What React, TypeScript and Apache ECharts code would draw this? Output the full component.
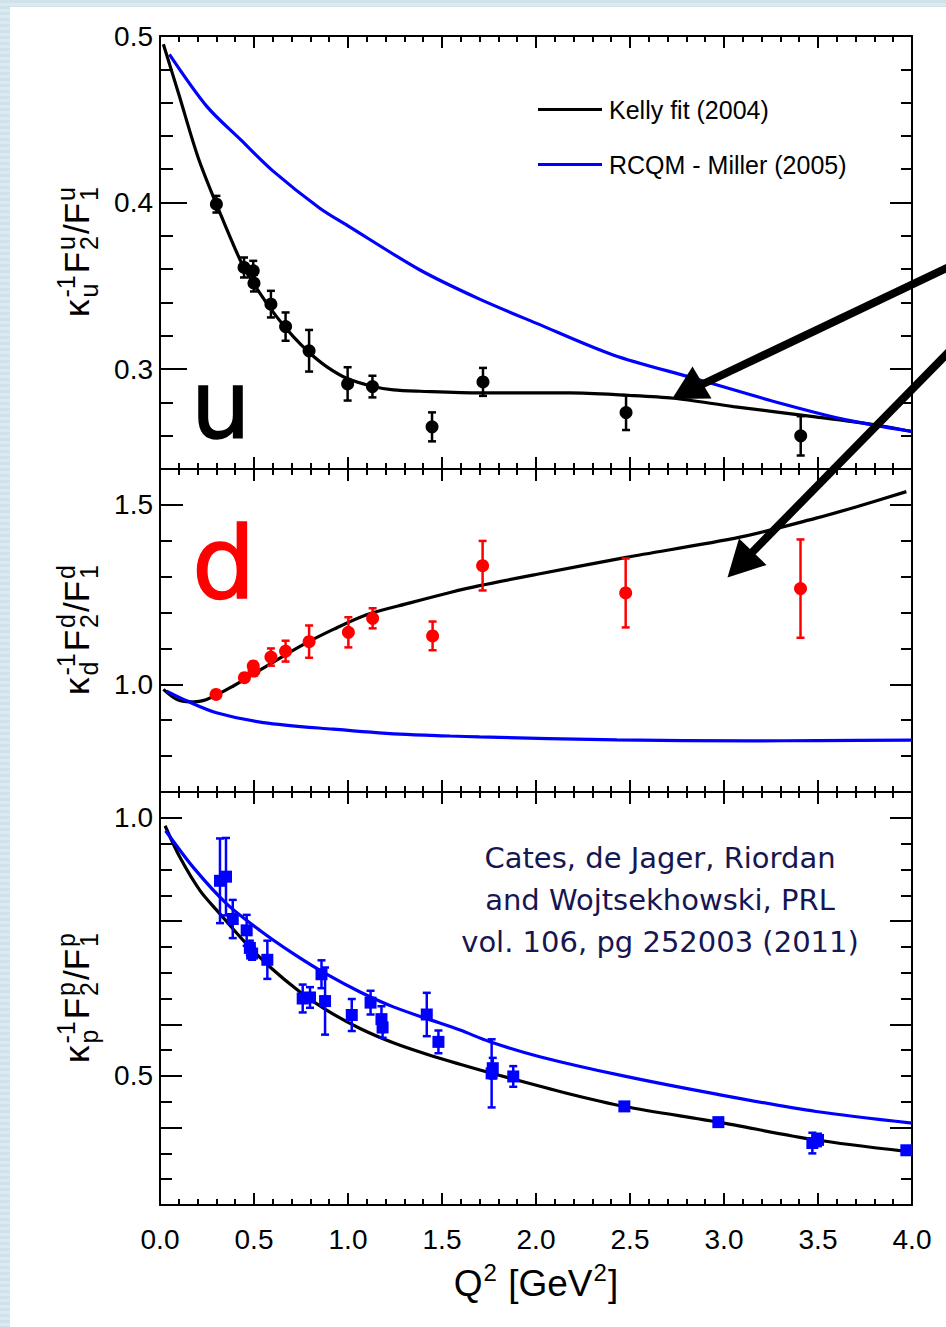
import React, { useEffect, useRef } from "react";
import * as echarts from "echarts";

// ---------------- data ----------------
// u quark panel
const uQ2 = [0.30, 0.447, 0.496, 0.50, 0.59, 0.668, 0.793, 0.998, 1.13, 1.447, 1.718, 2.479, 3.408];
const uVal = [0.399, 0.361, 0.359, 0.3516, 0.339, 0.3255, 0.311, 0.2911, 0.2895, 0.2653, 0.2923, 0.2739, 0.2599];
const uErr = [0.005, 0.006, 0.006, 0.005, 0.008, 0.0085, 0.0125, 0.010, 0.0065, 0.0087, 0.0084, 0.0105, 0.0118];
const uKelly = [[0.018, 0.495], [0.1, 0.465], [0.2, 0.428], [0.3, 0.399], [0.443, 0.3615], [0.532, 0.3455], [0.62, 0.3315], [0.709, 0.3195], [0.798, 0.3095], [0.886, 0.3015], [0.993, 0.2945], [1.135, 0.2895], [1.241, 0.2875], [1.383, 0.2867], [1.702, 0.2857], [2.18, 0.2857], [2.48, 0.2843], [2.73, 0.2825], [3.05, 0.2775], [3.475, 0.2715], [3.777, 0.267], [4.0, 0.2625]];
const uMiller = [[0.05, 0.489], [0.25, 0.4576], [0.43, 0.4376], [0.6, 0.419], [0.85, 0.3966], [1.0, 0.386], [1.383, 0.3595], [1.7, 0.342], [2.0, 0.3276], [2.41, 0.3085], [2.84, 0.2945], [3.3, 0.2795], [3.65, 0.2695], [4.0, 0.2625]];

// d quark panel
const dQ2 = [0.298, 0.449, 0.496, 0.50, 0.59, 0.668, 0.793, 1.002, 1.131, 1.45, 1.716, 2.477, 3.407];
const dVal = [0.972, 1.0185, 1.051, 1.037, 1.076, 1.0925, 1.119, 1.145, 1.184, 1.135, 1.3306, 1.2546, 1.2667];
const dErr = [0.008, 0.01, 0.012, 0.012, 0.024, 0.029, 0.045, 0.042, 0.028, 0.04, 0.069, 0.096, 0.137];
const dKelly = [[0.018, 0.986], [0.089, 0.958], [0.16, 0.951], [0.248, 0.958], [0.39, 0.9954], [0.567, 1.051], [0.745, 1.106], [0.922, 1.153], [1.099, 1.194], [1.33, 1.227], [1.543, 1.256], [1.70, 1.275], [2.0, 1.306], [2.48, 1.3537], [3.085, 1.41], [3.49, 1.463], [3.706, 1.495], [3.97, 1.537]];
const dMiller = [[0.035, 0.981], [0.142, 0.954], [0.30, 0.921], [0.55, 0.8935], [0.922, 0.875], [1.277, 0.861], [1.543, 0.856], [1.70, 0.8536], [2.43, 0.845], [3.14, 0.8426], [3.5, 0.8432], [4.0, 0.8444]];

// proton panel
const pQ2 = [0.319, 0.351, 0.387, 0.461, 0.478, 0.49, 0.571, 0.759, 0.798, 0.859, 0.878, 1.02, 1.12, 1.178, 1.184, 1.419, 1.481, 1.764, 1.77, 1.879, 2.47, 2.97, 3.47, 3.50, 3.97];
const pVal = [0.878, 0.886, 0.804, 0.782, 0.748, 0.737, 0.725, 0.650, 0.652, 0.697, 0.645, 0.618, 0.642, 0.610, 0.594, 0.619, 0.566, 0.505, 0.515, 0.499, 0.441, 0.4105, 0.370, 0.376, 0.356];
const pErr = [0.082, 0.075, 0.037, 0.03, 0.014, 0.012, 0.037, 0.027, 0.02, 0.027, 0.065, 0.031, 0.023, 0.025, 0.02, 0.042, 0.022, 0.066, 0.02, 0.02, 0.006, 0.006, 0.02, 0.012, 0.006];
const pKelly = [[0.027, 0.9846], [0.106, 0.9234], [0.213, 0.859], [0.319, 0.814], [0.443, 0.7626], [0.585, 0.711], [0.745, 0.6627], [0.886, 0.6274], [1.064, 0.592], [1.241, 0.5643], [1.419, 0.542], [1.596, 0.5226], [1.764, 0.5052], [2.163, 0.4665], [2.47, 0.4408], [2.97, 0.4105], [3.484, 0.3764], [3.97, 0.3538]];
const pMiller = [[0.03, 0.975], [0.177, 0.904], [0.355, 0.8334], [0.532, 0.7818], [0.709, 0.7369], [0.886, 0.697], [1.064, 0.6627], [1.241, 0.6338], [1.419, 0.611], [1.596, 0.5888], [1.755, 0.5662], [2.02, 0.5373], [2.465, 0.50], [2.96, 0.4647], [3.49, 0.4311], [4.0, 0.4086]];

// axes / ticks
const xRange = [0, 4];
const uRange = [0.24, 0.5];
const dRange = [0.7, 1.6];
const pRange = [0.25, 1.05];
const uMinorTicks = [0.24, 0.26, 0.28, 0.30, 0.32, 0.34, 0.36, 0.38, 0.40, 0.42, 0.44, 0.46, 0.48, 0.50];
const uMajorTicks = [0.3, 0.4, 0.5];
const uTickLabels = [0.3, 0.4, 0.5];
const dMinorTicks = [0.7, 0.8, 0.9, 1.0, 1.1, 1.2, 1.3, 1.4, 1.5, 1.6];
const dMajorTicks = [1.0, 1.5];
const dTickLabels = [1.0, 1.5];
const pMinorTicks = [0.25, 0.30, 0.35, 0.40, 0.45, 0.50, 0.55, 0.60, 0.65, 0.70, 0.75, 0.80, 0.85, 0.90, 0.95, 1.00, 1.05];
const pMajorTicksLeft = [0.4, 0.5, 0.6, 0.8, 1.0];
const pMajorTicksRight = [0.4, 0.6, 0.8, 1.0];
const pTickLabels = [0.5, 1.0];

const KELLY = "Kelly fit (2004)";
const MILLER = "RCQM - Miller (2005)";
const citation = ["Cates, de Jager, Riordan", "and Wojtsekhowski, PRL", "vol. 106, pg 252003 (2011)"];

// ---------------- helpers ----------------
const FONT = '"Liberation Sans", Arial, Helvetica, sans-serif';
const BLUE = "#0000ff";
const RED = "#ff0000";

let measureCtx: CanvasRenderingContext2D | null = null;
function tw(text: string, size: number, family = FONT): number {
  if (!measureCtx) measureCtx = document.createElement("canvas").getContext("2d");
  measureCtx!.font = `${size}px ${family}`;
  return measureCtx!.measureText(text).width;
}

type Seg = { t?: string; sub?: string; sup?: string };
function scriptText(segs: Seg[], main: number, small: number, x: number, y: number, rotation: number, gap = 1, color = "#000") {
  const items: any[] = [];
  let cur = 0;
  for (const s of segs) {
    if (s.t) {
      items.push({ text: s.t, size: main, dx: cur, base: 0 });
      cur += tw(s.t, main) + gap;
    } else {
      let w = 0;
      if (s.sup) {
        items.push({ text: s.sup, size: small, dx: cur, base: -0.42 * main });
        w = Math.max(w, tw(s.sup, small));
      }
      if (s.sub) {
        items.push({ text: s.sub, size: small, dx: cur, base: 0.26 * main });
        w = Math.max(w, tw(s.sub, small));
      }
      cur += w + gap;
    }
  }
  const total = cur - gap;
  return {
    type: "group",
    x,
    y,
    rotation,
    silent: true,
    z: 50,
    children: items.map((it) => ({
      type: "text",
      x: it.dx - total / 2,
      y: it.base - 0.35 * it.size,
      style: {
        text: it.text,
        fontSize: it.size,
        fontFamily: FONT,
        fill: color,
        align: "left",
        textAlign: "left",
        verticalAlign: "middle",
        textVerticalAlign: "middle",
      },
    })),
  };
}

function yAxesFor(g: number, range: number[], minor: number[], majorL: number[], majorR: number[], labels: number[], lens: number[]) {
  const line = { color: "#000", width: 2 };
  const base = {
    type: "value",
    gridIndex: g,
    min: range[0],
    max: range[1],
    splitLine: { show: false },
    axisLine: { show: false, onZero: false },
    axisLabel: { show: false },
  };
  return [
    { ...base, position: "left", axisLine: { show: true, onZero: false, lineStyle: line }, axisTick: { show: true, inside: true, length: lens[1], customValues: minor, lineStyle: line } },
    {
      ...base,
      position: "left",
      axisTick: { show: true, inside: true, length: lens[0], customValues: majorL, lineStyle: line },
      axisLabel: { show: true, customValues: labels, formatter: (v: number) => v.toFixed(1), fontSize: 28, fontFamily: FONT, color: "#000", margin: 7 },
    },
    { ...base, position: "right", axisLine: { show: true, onZero: false, lineStyle: line }, axisTick: { show: true, inside: true, length: lens[3], customValues: minor, lineStyle: line } },
    { ...base, position: "right", axisTick: { show: true, inside: true, length: lens[2], customValues: majorR, lineStyle: line } },
  ];
}

function xAxesFor(g: number, showLabels: boolean) {
  const line = { color: "#000", width: 2 };
  const common = {
    type: "value",
    gridIndex: g,
    min: xRange[0],
    max: xRange[1],
    interval: 0.5,
    splitLine: { show: false },
    minorSplitLine: { show: false },
    axisLine: { show: true, onZero: false, lineStyle: line },
    axisTick: { show: true, inside: true, length: 12, lineStyle: line },
    minorTick: { show: true, splitNumber: 5, length: 6, lineStyle: line },
  };
  return [
    {
      ...common,
      position: "bottom",
      axisLabel: { show: showLabels, formatter: (v: number) => v.toFixed(1), fontSize: 28, fontFamily: FONT, color: "#000", margin: 20 },
    },
    { ...common, position: "top", axisLabel: { show: false } },
  ];
}

function curve(name: string, g: number, data: number[][], color: string) {
  return {
    type: "line",
    name,
    xAxisIndex: 2 * g,
    yAxisIndex: 4 * g,
    data,
    smooth: 0.3,
    showSymbol: false,
    symbol: "none",
    lineStyle: { color, width: 3.2 },
    itemStyle: { color },
    z: 3,
    silent: true,
  };
}

function errorBars(g: number, q: number[], v: number[], e: number[], color: string) {
  return {
    type: "custom",
    xAxisIndex: 2 * g,
    yAxisIndex: 4 * g,
    silent: true,
    z: 4,
    data: q.map((x, i) => [x, v[i], e[i]]),
    renderItem: (_p: any, api: any) => {
      const x = api.value(0);
      const y = api.value(1);
      const err = api.value(2);
      const hi = api.coord([x, y + err]);
      const lo = api.coord([x, y - err]);
      const w = 4;
      const st = { stroke: color, lineWidth: 2.5 };
      return {
        type: "group",
        children: [
          { type: "line", shape: { x1: hi[0], y1: hi[1], x2: lo[0], y2: lo[1] }, style: st },
          { type: "line", shape: { x1: hi[0] - w, y1: hi[1], x2: hi[0] + w, y2: hi[1] }, style: st },
          { type: "line", shape: { x1: lo[0] - w, y1: lo[1], x2: lo[0] + w, y2: lo[1] }, style: st },
        ],
      };
    },
  };
}

function markers(g: number, q: number[], v: number[], color: string, symbol: string, size: number) {
  return {
    type: "scatter",
    xAxisIndex: 2 * g,
    yAxisIndex: 4 * g,
    symbol,
    symbolSize: size,
    itemStyle: { color, opacity: 1 },
    data: q.map((x, i) => [x, v[i]]),
    z: 5,
    silent: true,
  };
}

function buildOption() {
  const grids = [
    { left: 160, top: 36, width: 752, height: 433 },
    { left: 160, top: 469, width: 752, height: 323 },
    { left: 160, top: 792, width: 752, height: 413 },
  ];
  const xAxis = [...xAxesFor(0, false), ...xAxesFor(1, false), ...xAxesFor(2, true)];
  const yAxis = [
    ...yAxesFor(0, uRange, uMinorTicks, uMajorTicks, uMajorTicks, uTickLabels, [27, 13, 22, 11]),
    ...yAxesFor(1, dRange, dMinorTicks, dMajorTicks, dMajorTicks, dTickLabels, [23, 12, 22, 11]),
    ...yAxesFor(2, pRange, pMinorTicks, pMajorTicksLeft, pMajorTicksRight, pTickLabels, [22, 12, 22, 11]),
  ];
  const series = [
    curve(KELLY, 0, uKelly, "#000"),
    curve(MILLER, 0, uMiller, BLUE),
    errorBars(0, uQ2, uVal, uErr, "#000"),
    markers(0, uQ2, uVal, "#000", "circle", 13),
    curve(KELLY, 1, dKelly, "#000"),
    curve(MILLER, 1, dMiller, BLUE),
    errorBars(1, dQ2, dVal, dErr, RED),
    markers(1, dQ2, dVal, RED, "circle", 13),
    curve(KELLY, 2, pKelly, "#000"),
    curve(MILLER, 2, pMiller, BLUE),
    errorBars(2, pQ2, pVal, pErr, BLUE),
    markers(2, pQ2, pVal, BLUE, "rect", 12),
  ];

  const R = Math.PI / 2;
  const graphic: any[] = [
    // y-axis titles
    scriptText([{ t: "κ" }, { sup: "-1", sub: "u" }, { t: "F" }, { sup: "u", sub: "2" }, { t: "/F" }, { sup: "u", sub: "1" }], 35, 25, 89, 252, R, 2),
    scriptText([{ t: "κ" }, { sup: "-1", sub: "d" }, { t: "F" }, { sup: "d", sub: "2" }, { t: "/F" }, { sup: "d", sub: "1" }], 35, 25, 89, 630, R, 2),
    scriptText([{ t: "κ" }, { sup: "-1", sub: "p" }, { t: "F" }, { sup: "p", sub: "2" }, { t: "/F" }, { sup: "p", sub: "1" }], 35, 25, 89, 998, R, 2),
    // x-axis title
    scriptText([{ t: "Q" }, { sup: "2" }, { t: " [GeV" }, { sup: "2" }, { t: "]" }], 37, 24, 536, 1296, 0),
    // panel letters
    {
      type: "text",
      x: 191,
      y: 438 - 0.346 * 94,
      silent: true,
      style: { text: "u", fontSize: 94, fontFamily: '"DejaVu Sans", sans-serif', fill: "#000", stroke: "#000", lineWidth: 1.5, align: "left", textAlign: "left", verticalAlign: "middle", textVerticalAlign: "middle" },
    },
    {
      type: "text",
      x: 192,
      y: 598 - 0.346 * 100,
      silent: true,
      style: { text: "d", fontSize: 100, fontFamily: '"DejaVu Sans", sans-serif', fill: RED, stroke: RED, lineWidth: 1.5, align: "left", textAlign: "left", verticalAlign: "middle", textVerticalAlign: "middle" },
    },
    // citation
    ...citation.map((line, i) => ({
      type: "text",
      x: 660,
      y: 858 + i * 42,
      silent: true,
      style: { text: line, fontSize: 29, fontFamily: '"DejaVu Sans", sans-serif', fill: "#161650", align: "center", textAlign: "center", verticalAlign: "middle", textVerticalAlign: "middle" },
    })),
    // arrows
    { type: "line", silent: true, z: 60, shape: { x1: 950, y1: 266.5, x2: 702, y2: 384.5 }, style: { stroke: "#000", lineWidth: 8 } },
    { type: "polygon", silent: true, z: 60, shape: { points: [[672, 399], [692.5, 366.5], [711.5, 398.5]] }, style: { fill: "#000" } },
    { type: "line", silent: true, z: 60, shape: { x1: 950, y1: 350.6, x2: 750, y2: 554.5 }, style: { stroke: "#000", lineWidth: 8 } },
    { type: "polygon", silent: true, z: 60, shape: { points: [[727.5, 577.5], [739, 538.5], [766.5, 565]] }, style: { fill: "#000" } },
  ];

  return {
    animation: false,
    backgroundColor: "transparent",
    textStyle: { fontFamily: FONT },
    grid: grids,
    xAxis,
    yAxis,
    legend: {
      orient: "vertical",
      left: 533,
      top: 92,
      itemWidth: 64,
      itemHeight: 3,
      itemGap: 30,
      icon: "rect",
      selectedMode: false,
      data: [KELLY, MILLER],
      textStyle: { fontSize: 25, fontFamily: FONT, color: "#000", lineHeight: 25, padding: [0, 0, 0, 2] },
    },
    series,
    graphic,
  };
}

export default function App() {
  const ref = useRef<HTMLDivElement>(null);
  useEffect(() => {
    const chart = echarts.init(ref.current!, null, { renderer: "svg" });
    chart.setOption(buildOption() as any);
    return () => chart.dispose();
  }, []);
  return (
    <div
      style={{
        position: "fixed",
        left: 0,
        top: 0,
        width: 946,
        height: 1327,
        overflow: "hidden",
        background: "repeating-linear-gradient(180deg, #cfe1eb 0px, #cfe1eb 3px, #dde9f0 3px, #dde9f0 6px)",
      }}
    >
      <div style={{ position: "absolute", left: 10, top: 7, width: 936, height: 1320, background: "#fff" }} />
      <div ref={ref} style={{ position: "absolute", left: 0, top: 0, width: 946, height: 1327 }} />
    </div>
  );
}
